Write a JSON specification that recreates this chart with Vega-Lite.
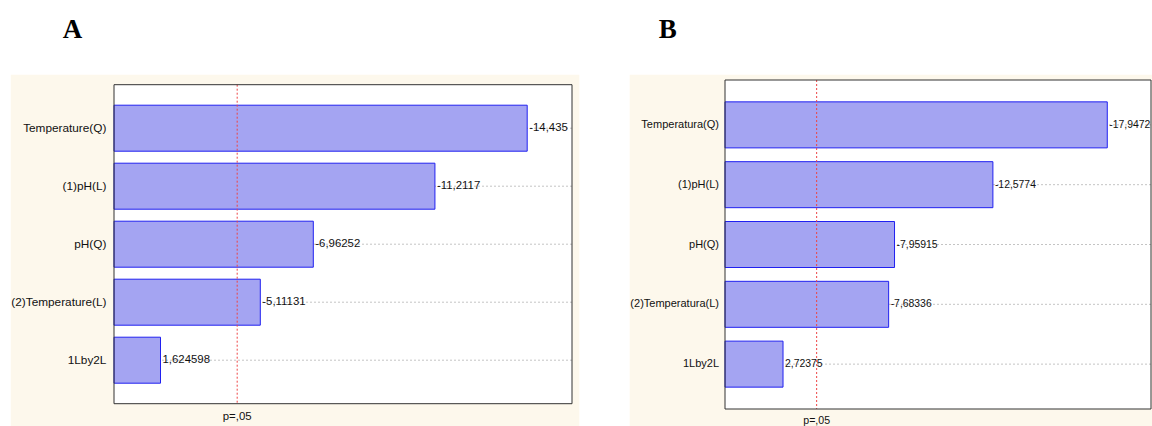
{
  "$schema": "https://vega.github.io/schema/vega-lite/v6.json",
  "background": "white",
  "padding": {"left": 10, "top": 15, "right": 0, "bottom": 0},
  "config": {
    "view": {"stroke": null},
    "font": "Liberation Sans",
    "scale": {"continuousPadding": 0},
    "axis": {"domain": false, "tickColor": "#333333", "tickWidth": 1, "labels": false, "grid": false, "tickSize": -3, "zindex": 1}
  },
  "datasets": {
    "effectsA": [
      {"rank": 1, "term": "Temperature(Q)", "effect": 14.435, "label": "-14,435"},
      {"rank": 2, "term": "(1)pH(L)", "effect": 11.2117, "label": "-11,2117"},
      {"rank": 3, "term": "pH(Q)", "effect": 6.96252, "label": "-6,96252"},
      {"rank": 4, "term": "(2)Temperature(L)", "effect": 5.11131, "label": "-5,11131"},
      {"rank": 5, "term": "1Lby2L", "effect": 1.624598, "label": "1,624598"}
    ],
    "effectsB": [
      {"rank": 1, "term": "Temperatura(Q)", "effect": 17.9472, "label": "-17,9472"},
      {"rank": 2, "term": "(1)pH(L)", "effect": 12.5774, "label": "-12,5774"},
      {"rank": 3, "term": "pH(Q)", "effect": 7.95915, "label": "-7,95915"},
      {"rank": 4, "term": "(2)Temperatura(L)", "effect": 7.68336, "label": "-7,68336"},
      {"rank": 5, "term": "1Lby2L", "effect": 2.72375, "label": "2,72375"}
    ],
    "critical": [{"p": 4.303, "label": "p=,05"}]
  },
  "concat": [
    {
      "title": {"text": "A", "anchor": "start", "frame": "bounds", "dx": 52, "offset": 10, "baseline": "alphabetic", "font": "Liberation Serif", "fontSize": 27, "fontWeight": "bold", "color": "#000000"},
      "width": 458,
      "height": 323.7,
      "resolve": {"axis": {"x": "independent", "y": "independent"}},
      "layer": [
        {
          "data": {"values": [{}]},
          "mark": {"type": "rect", "fill": "#fdf8ec"},
          "encoding": {
            "x": {"datum": -3.606, "type": "quantitative", "scale": {"domain": [0, 16], "nice": false, "zero": false, "padding": 0}, "axis": null},
            "x2": {"datum": 16.255},
            "y": {"datum": 0.0776, "type": "quantitative", "scale": {"domain": [0.169, 5.75], "reverse": true, "nice": false, "zero": false, "padding": 0}, "axis": null},
            "y2": {"datum": 6.141}
          }
        },
        {
          "data": {"values": [{}]},
          "mark": {"type": "rect", "fill": "white"},
          "encoding": {
            "x": {"datum": 0, "type": "quantitative", "scale": {"domain": [0, 16], "nice": false, "zero": false, "padding": 0}, "axis": null},
            "x2": {"datum": 16},
            "y": {"datum": 0.25, "type": "quantitative", "scale": {"domain": [0.169, 5.75], "reverse": true, "nice": false, "zero": false, "padding": 0}, "axis": null},
            "y2": {"datum": 5.75}
          }
        },
        {
          "data": {"name": "effectsA"},
          "mark": {"type": "rule", "stroke": "#c4c4c4", "strokeDash": [2, 2], "strokeWidth": 1},
          "encoding": {
            "y": {"field": "rank", "type": "quantitative", "scale": {"domain": [0.169, 5.75], "reverse": true, "nice": false, "zero": false, "padding": 0},
              "axis": {"orient": "right", "title": null, "values": [0.5,0.75,1,1.25,1.5,1.75,2,2.25,2.5,2.75,3,3.25,3.5,3.75,4,4.25,4.5,4.75,5,5.25,5.5]}}
          }
        },
        {
          "data": {"name": "effectsA"},
          "mark": {"type": "bar", "orient": "horizontal", "size": 46, "fill": "#a4a4f2", "stroke": "#2020f0", "strokeWidth": 1},
          "encoding": {
            "x": {"field": "effect", "type": "quantitative", "stack": null, "scale": {"domain": [0, 16], "nice": false, "zero": false, "padding": 0},
              "axis": {"orient": "bottom", "title": null, "values": [1,2,3,4,5,6,7,8,9,10,11,12,13,14,15]}},
            "y": {"field": "rank", "type": "quantitative", "scale": {"domain": [0.169, 5.75], "reverse": true, "nice": false, "zero": false, "padding": 0},
              "axis": {"orient": "left", "title": null, "values": [0.5,0.75,1,1.25,1.5,1.75,2,2.25,2.5,2.75,3,3.25,3.5,3.75,4,4.25,4.5,4.75,5,5.25,5.5]}}
          }
        },
        {
          "data": {"name": "effectsA"},
          "mark": {"type": "text", "align": "left", "baseline": "middle", "dx": 2, "fontSize": 11.4, "fill": "#111111"},
          "encoding": {
            "x": {"field": "effect", "type": "quantitative", "scale": {"domain": [0, 16], "nice": false, "zero": false, "padding": 0},
              "axis": {"orient": "top", "title": null, "offset": -4.7, "values": [1,2,3,4,5,6,7,8,9,10,11,12,13,14,15]}},
            "y": {"field": "rank", "type": "quantitative", "scale": {"domain": [0.169, 5.75], "reverse": true, "nice": false, "zero": false, "padding": 0}, "axis": null},
            "text": {"field": "label"}
          }
        },
        {
          "data": {"name": "effectsA"},
          "mark": {"type": "text", "align": "right", "baseline": "middle", "dx": -7.6, "fontSize": 11.8, "fill": "#111111"},
          "encoding": {
            "x": {"datum": 0, "type": "quantitative", "scale": {"domain": [0, 16], "nice": false, "zero": false, "padding": 0}, "axis": null},
            "y": {"field": "rank", "type": "quantitative", "scale": {"domain": [0.169, 5.75], "reverse": true, "nice": false, "zero": false, "padding": 0}, "axis": null},
            "text": {"field": "term"}
          }
        },
        {
          "data": {"name": "critical"},
          "mark": {"type": "rule", "stroke": "#ee4444", "strokeDash": [2, 2], "strokeWidth": 1},
          "encoding": {
            "x": {"field": "p", "type": "quantitative", "scale": {"domain": [0, 16], "nice": false, "zero": false, "padding": 0}, "axis": null},
            "y": {"datum": 0.25, "type": "quantitative", "scale": {"domain": [0.169, 5.75], "reverse": true, "nice": false, "zero": false, "padding": 0}, "axis": null},
            "y2": {"datum": 5.75}
          }
        },
        {
          "data": {"name": "critical"},
          "mark": {"type": "text", "align": "center", "baseline": "alphabetic", "dy": 16.5, "fontSize": 11.4, "fill": "#111111"},
          "encoding": {
            "x": {"field": "p", "type": "quantitative", "scale": {"domain": [0, 16], "nice": false, "zero": false, "padding": 0}, "axis": null},
            "y": {"datum": 5.75, "type": "quantitative", "scale": {"domain": [0.169, 5.75], "reverse": true, "nice": false, "zero": false, "padding": 0}, "axis": null},
            "text": {"field": "label"}
          }
        },
        {
          "data": {"values": [{}]},
          "mark": {"type": "rect", "fill": null, "stroke": "#333333", "strokeWidth": 1},
          "encoding": {
            "x": {"datum": 0, "type": "quantitative", "scale": {"domain": [0, 16], "nice": false, "zero": false, "padding": 0}, "axis": null},
            "x2": {"datum": 16},
            "y": {"datum": 0.25, "type": "quantitative", "scale": {"domain": [0.169, 5.75], "reverse": true, "nice": false, "zero": false, "padding": 0}, "axis": null},
            "y2": {"datum": 5.75}
          }
        }
      ]
    },
    {
      "title": {"text": "B", "anchor": "start", "frame": "bounds", "dx": 29, "offset": 10, "baseline": "alphabetic", "font": "Liberation Serif", "fontSize": 27, "fontWeight": "bold", "color": "#000000"},
      "width": 426,
      "height": 329,
      "resolve": {"axis": {"x": "independent", "y": "independent"}},
      "layer": [
        {
          "data": {"values": [{}]},
          "mark": {"type": "rect", "fill": "#fdf8ec"},
          "encoding": {
            "x": {"datum": -4.474, "type": "quantitative", "scale": {"domain": [0, 20], "nice": false, "zero": false, "padding": 0}, "axis": null},
            "x2": {"datum": 20.127},
            "y": {"datum": 0.1614, "type": "quantitative", "scale": {"domain": [0.25, 5.75], "reverse": true, "nice": false, "zero": false, "padding": 0}, "axis": null},
            "y2": {"datum": 6.046}
          }
        },
        {
          "data": {"values": [{}]},
          "mark": {"type": "rect", "fill": "white"},
          "encoding": {
            "x": {"datum": 0, "type": "quantitative", "scale": {"domain": [0, 20], "nice": false, "zero": false, "padding": 0}, "axis": null},
            "x2": {"datum": 20},
            "y": {"datum": 0.25, "type": "quantitative", "scale": {"domain": [0.25, 5.75], "reverse": true, "nice": false, "zero": false, "padding": 0}, "axis": null},
            "y2": {"datum": 5.75}
          }
        },
        {
          "data": {"name": "effectsB"},
          "mark": {"type": "rule", "stroke": "#c4c4c4", "strokeDash": [2, 2], "strokeWidth": 1},
          "encoding": {
            "y": {"field": "rank", "type": "quantitative", "scale": {"domain": [0.25, 5.75], "reverse": true, "nice": false, "zero": false, "padding": 0},
              "axis": {"orient": "right", "title": null, "values": [0.5,0.75,1,1.25,1.5,1.75,2,2.25,2.5,2.75,3,3.25,3.5,3.75,4,4.25,4.5,4.75,5,5.25,5.5]}}
          }
        },
        {
          "data": {"name": "effectsB"},
          "mark": {"type": "bar", "orient": "horizontal", "size": 46, "fill": "#a4a4f2", "stroke": "#2020f0", "strokeWidth": 1},
          "encoding": {
            "x": {"field": "effect", "type": "quantitative", "stack": null, "scale": {"domain": [0, 20], "nice": false, "zero": false, "padding": 0},
              "axis": {"orient": "bottom", "title": null, "values": [1,2,3,4,5,6,7,8,9,10,11,12,13,14,15,16,17,18,19]}},
            "y": {"field": "rank", "type": "quantitative", "scale": {"domain": [0.25, 5.75], "reverse": true, "nice": false, "zero": false, "padding": 0},
              "axis": {"orient": "left", "title": null, "values": [0.5,0.75,1,1.25,1.5,1.75,2,2.25,2.5,2.75,3,3.25,3.5,3.75,4,4.25,4.5,4.75,5,5.25,5.5]}}
          }
        },
        {
          "data": {"name": "effectsB"},
          "mark": {"type": "text", "align": "left", "baseline": "middle", "dx": 2, "fontSize": 10.4, "fill": "#111111"},
          "encoding": {
            "x": {"field": "effect", "type": "quantitative", "scale": {"domain": [0, 20], "nice": false, "zero": false, "padding": 0},
              "axis": {"orient": "top", "title": null, "values": [1,2,3,4,5,6,7,8,9,10,11,12,13,14,15,16,17,18,19]}},
            "y": {"field": "rank", "type": "quantitative", "scale": {"domain": [0.25, 5.75], "reverse": true, "nice": false, "zero": false, "padding": 0}, "axis": null},
            "text": {"field": "label"}
          }
        },
        {
          "data": {"name": "effectsB"},
          "mark": {"type": "text", "align": "right", "baseline": "middle", "dx": -6, "fontSize": 11, "fill": "#111111"},
          "encoding": {
            "x": {"datum": 0, "type": "quantitative", "scale": {"domain": [0, 20], "nice": false, "zero": false, "padding": 0}, "axis": null},
            "y": {"field": "rank", "type": "quantitative", "scale": {"domain": [0.25, 5.75], "reverse": true, "nice": false, "zero": false, "padding": 0}, "axis": null},
            "text": {"field": "term"}
          }
        },
        {
          "data": {"name": "critical"},
          "mark": {"type": "rule", "stroke": "#ee4444", "strokeDash": [2, 2], "strokeWidth": 1},
          "encoding": {
            "x": {"field": "p", "type": "quantitative", "scale": {"domain": [0, 20], "nice": false, "zero": false, "padding": 0}, "axis": null}
          }
        },
        {
          "data": {"name": "critical"},
          "mark": {"type": "text", "align": "center", "baseline": "alphabetic", "dy": 15, "fontSize": 10.6, "fill": "#111111"},
          "encoding": {
            "x": {"field": "p", "type": "quantitative", "scale": {"domain": [0, 20], "nice": false, "zero": false, "padding": 0}, "axis": null},
            "y": {"datum": 5.75, "type": "quantitative", "scale": {"domain": [0.25, 5.75], "reverse": true, "nice": false, "zero": false, "padding": 0}, "axis": null},
            "text": {"field": "label"}
          }
        },
        {
          "data": {"values": [{}]},
          "mark": {"type": "rect", "fill": null, "stroke": "#333333", "strokeWidth": 1},
          "encoding": {
            "x": {"datum": 0, "type": "quantitative", "scale": {"domain": [0, 20], "nice": false, "zero": false, "padding": 0}, "axis": null},
            "x2": {"datum": 20},
            "y": {"datum": 0.25, "type": "quantitative", "scale": {"domain": [0.25, 5.75], "reverse": true, "nice": false, "zero": false, "padding": 0}, "axis": null},
            "y2": {"datum": 5.75}
          }
        }
      ]
    }
  ],
  "columns": 2,
  "align": "none",
  "spacing": 49
}
